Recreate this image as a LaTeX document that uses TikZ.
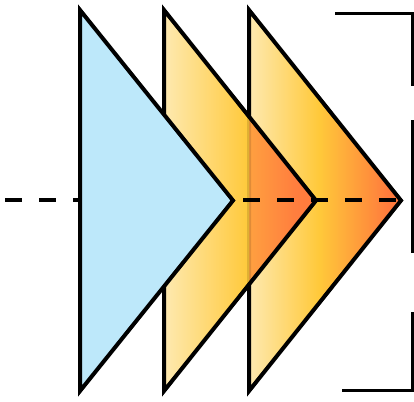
\documentclass[tikz,border=0pt]{standalone}
\definecolor{skyfill}{HTML}{BDE8FA}
\definecolor{lightcream}{HTML}{FEE9B0}
\definecolor{sunyellow}{HTML}{FFC93A}
\definecolor{deeporange}{HTML}{FF7A3C}
\definecolor{overlapA}{HTML}{FFA040}
\definecolor{overlapB}{HTML}{FF7E3E}
\pgfdeclarehorizontalshading{warmshade}{100bp}{color(0bp)=(lightcream); color(25bp)=(lightcream); color(48bp)=(sunyellow); color(71bp)=(deeporange); color(100bp)=(deeporange)}
\pgfdeclarehorizontalshading{midshade}{100bp}{color(0bp)=(lightcream); color(25bp)=(lightcream); color(52.8bp)=(sunyellow); color(53bp)=(overlapA); color(68bp)=(overlapB); color(75bp)=(deeporange); color(100bp)=(deeporange)}
\tikzset{
  tri/.style={line width=4pt, line join=miter, draw=black},
  warmfill/.style={shading=warmshade},
  midfill/.style={shading=midshade},
  axisline/.style={line width=4pt, dash pattern=on 17pt off 17pt},
  brack/.style={line width=3pt}
}
\begin{document}
\begin{tikzpicture}[x=1pt,y=-1pt]
\useasboundingbox (0,0) rectangle (414,401);
% coordinates
\coordinate (b1) at (80,10);
\coordinate (b2) at (80,391);
\coordinate (b3) at (233,200.5);
\coordinate (p1) at (164,10);
\coordinate (p2) at (164,391);
\coordinate (p3) at (316,200.5);
\coordinate (q1) at (249,10);
\coordinate (q2) at (249,391);
\coordinate (q3) at (401,200.5);
\coordinate (dL) at (5,200);
\coordinate (dR) at (401,200);
% rear chevron
\path[warmfill] (q1) -- (q3) -- (q2) -- cycle;
\draw[tri] (q1) -- (q3) -- (q2) -- cycle;
% middle chevron fill
\path[midfill] (p1) -- (p3) -- (p2) -- cycle;
% rear chevron edge, faint through the middle chevron
\begin{scope}
\clip (p1) -- (p3) -- (p2) -- cycle;
\draw[tri, draw opacity=0.12] (q1) -- (q3) -- (q2) -- cycle;
\end{scope}
\draw[tri] (p1) -- (p3) -- (p2) -- cycle;
% dashed axis
\draw[axisline] (dL) -- (dR);
% front triangle
\draw[tri, fill=skyfill] (b1) -- (b3) -- (b2) -- cycle;
% brackets
\coordinate (t1) at (335,14);
\coordinate (t2) at (412,14);
\coordinate (t3) at (412,86);
\coordinate (m1) at (412,120);
\coordinate (m2) at (412,253);
\coordinate (u1) at (412,312);
\coordinate (u2) at (412,390);
\coordinate (u3) at (342,390);
\draw[brack] (t1) -- (t2) -- (t3);
\draw[brack] (m1) -- (m2);
\draw[brack] (u1) -- (u2) -- (u3);
\end{tikzpicture}
\end{document}
